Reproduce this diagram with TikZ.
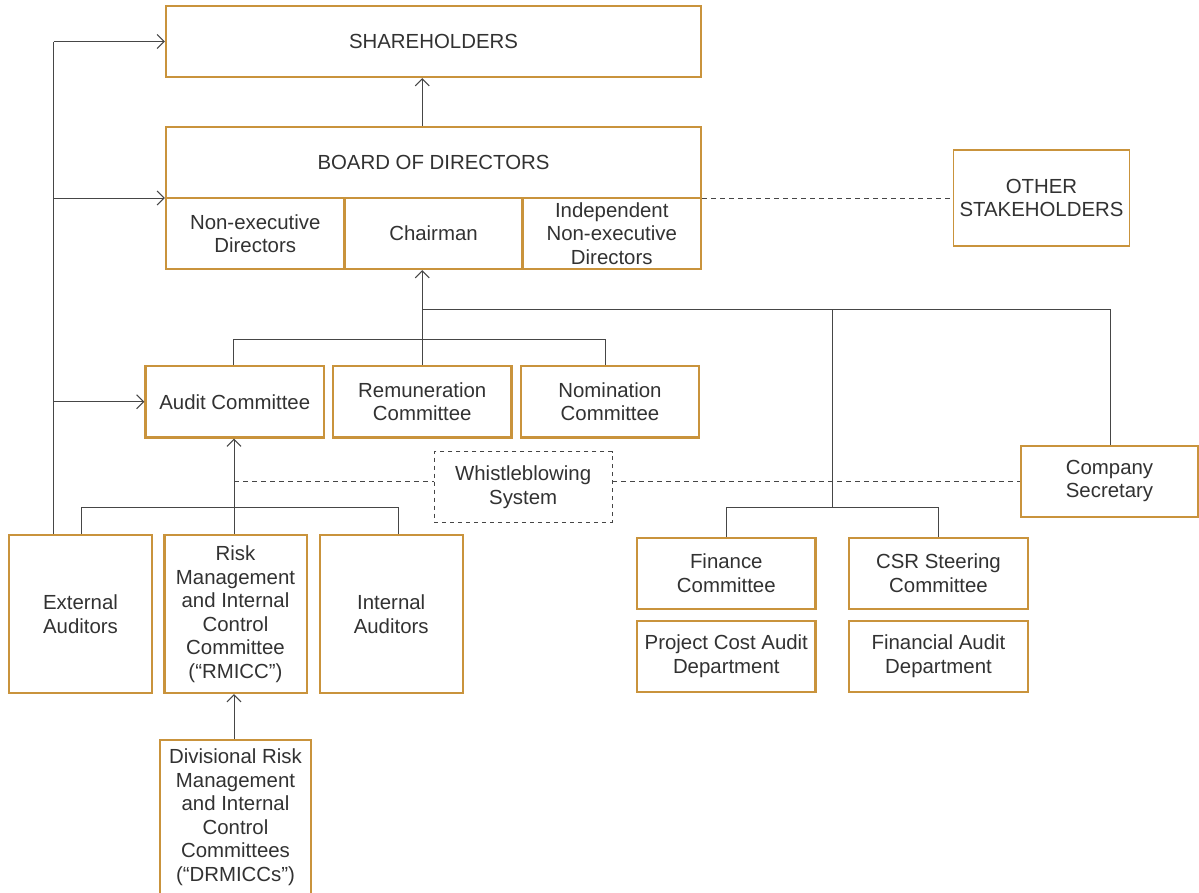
\documentclass[tikz,border=0pt]{standalone}
\usepackage{fontspec}
\setmainfont{Liberation Sans}
\usetikzlibrary{arrows.meta}
\definecolor{gold}{RGB}{201,147,60}
\definecolor{txt}{RGB}{50,50,50}
\definecolor{ln}{RGB}{70,70,70}
\tikzset{
  box/.style={draw=gold, line width=2.4pt, inner sep=0pt, align=center, text=txt,
    font=\fontsize{20.4}{23.5}\selectfont},
  wbox/.style={draw=ln, line width=0.9pt, dash pattern=on 4pt off 4pt, inner sep=0pt,
    align=center, text=txt, font=\fontsize{20.4}{23.5}\selectfont},
  conn/.style={draw=ln, line width=1pt},
  arr/.style={conn, -{Straight Barb[length=7pt,width=14pt]}},
  dsh/.style={draw=ln, line width=0.9pt, dash pattern=on 4.5pt off 4.5pt},
}
\begin{document}
\begin{tikzpicture}[x=1pt,y=-1pt]
\useasboundingbox (0,0) rectangle (1199,892);
\clip (0,0) rectangle (1199,892);
\fill[white] (0,0) rectangle (1199,892);
% boxes
\node[box, minimum width=535pt, minimum height=71pt] (sh) at (433.5,41.5) {SHAREHOLDERS};
\node[box, minimum width=535pt, minimum height=71pt] (bod) at (433.5,162.5) {BOARD OF DIRECTORS};
\node[box, minimum width=178.5pt, minimum height=71pt] (ned) at (255.25,233.5) {Non-executive\\Directors};
\node[box, minimum width=178pt, minimum height=71pt] (chair) at (433.5,233.5) {Chairman};
\node[box, minimum width=178.5pt, minimum height=71pt] (ined) at (611.75,233.5) {Independent\\Non-executive\\Directors};
\node[box, line width=1.6pt, minimum width=176pt, minimum height=96pt] (oth) at (1041.5,198) {OTHER\\STAKEHOLDERS};
\node[box, minimum width=178.5pt, minimum height=71.5pt] (audit) at (234.75,401.75) {Audit Committee};
\node[box, minimum width=178.5pt, minimum height=71.5pt] (rem) at (422.25,401.75) {Remuneration\\Committee};
\node[box, minimum width=178pt, minimum height=71.5pt] (nom) at (610,401.75) {Nomination\\Committee};
\node[wbox, minimum width=177.7pt, minimum height=70.6pt] (wb) at (523.15,487) {Whistleblowing\\System};
\node[box, minimum width=177.6pt, minimum height=71pt] (sec) at (1109.5,481.2) {Company\\Secretary};
\node[box, minimum width=143pt, minimum height=158pt] (ext) at (80.5,614) {External\\Auditors};
\node[box, minimum width=142.4pt, minimum height=158pt] (rmicc) at (235.5,614) {Risk\\Management\\and Internal\\Control\\Committee\\(“RMICC”)};
\node[box, minimum width=143pt, minimum height=158pt] (int) at (391.2,614) {Internal\\Auditors};
\node[box, minimum width=151pt, minimum height=154pt] (drm) at (235.5,817) {Divisional Risk\\Management\\and Internal\\Control\\Committees\\(“DRMICCs”)};
\node[box, minimum width=178.6pt, minimum height=71.3pt] (fin) at (726.3,573.35) {Finance\\Committee};
\node[box, minimum width=179pt, minimum height=71.3pt] (csr) at (938.5,573.35) {CSR Steering\\Committee};
\node[box, minimum width=178.6pt, minimum height=71.3pt] (pca) at (726.3,656.35) {Project Cost Audit\\Department};
\node[box, minimum width=179pt, minimum height=71.3pt] (fad) at (938.5,656.35) {Financial Audit\\Department};
% junction coordinates
\coordinate (L) at (53.7,0);
\coordinate (b1) at (233,339);
\coordinate (b2) at (605,339);
\coordinate (t1) at (422.25,309);
\coordinate (t2) at (832,309);
\coordinate (t3) at (1110,309);
\coordinate (fj) at (832,507);
\coordinate (f1) at (726,507);
\coordinate (f2) at (938,507);
\coordinate (e1) at (81,507);
\coordinate (e2) at (398,507);
\coordinate (xr) at (234,0);
\coordinate (yw) at (0,481);
\coordinate (yb) at (0,198);
% connectors
\draw[arr] (rem.north |- bod.north) -- (rem.north |- sh.south);
\draw[conn] (ext.north -| L) -- (L |- sh.west);
\draw[arr] (L |- sh.west) -- (sh.west);
\draw[arr] (L |- yb) -- (bod.west |- yb);
\draw[arr] (L |- audit.west) -- (audit.west);
\draw[arr] (rem.north) -- (rem.north |- chair.south);
\draw[conn] (audit.north -| b1) -- (b1) -- (b2) -- (nom.north -| b2);
\draw[conn] (t1) -- (t3) -- (sec.north -| t3);
\draw[conn] (t2) -- (fj);
\draw[conn] (fin.north -| f1) -- (f1) -- (f2) -- (csr.north -| f2);
\draw[conn] (ext.north -| e1) -- (e1) -- (e2) -- (int.north -| e2);
\draw[arr] (rmicc.north -| xr) -- (audit.south -| xr);
\draw[arr] (drm.north -| xr) -- (rmicc.south -| xr);
\draw[dsh] (bod.east |- yb) -- (oth.west |- yb);
\draw[dsh] (xr |- yw) -- (wb.west |- yw);
\draw[dsh] (wb.east |- yw) -- (sec.west |- yw);
\end{tikzpicture}
\end{document}
